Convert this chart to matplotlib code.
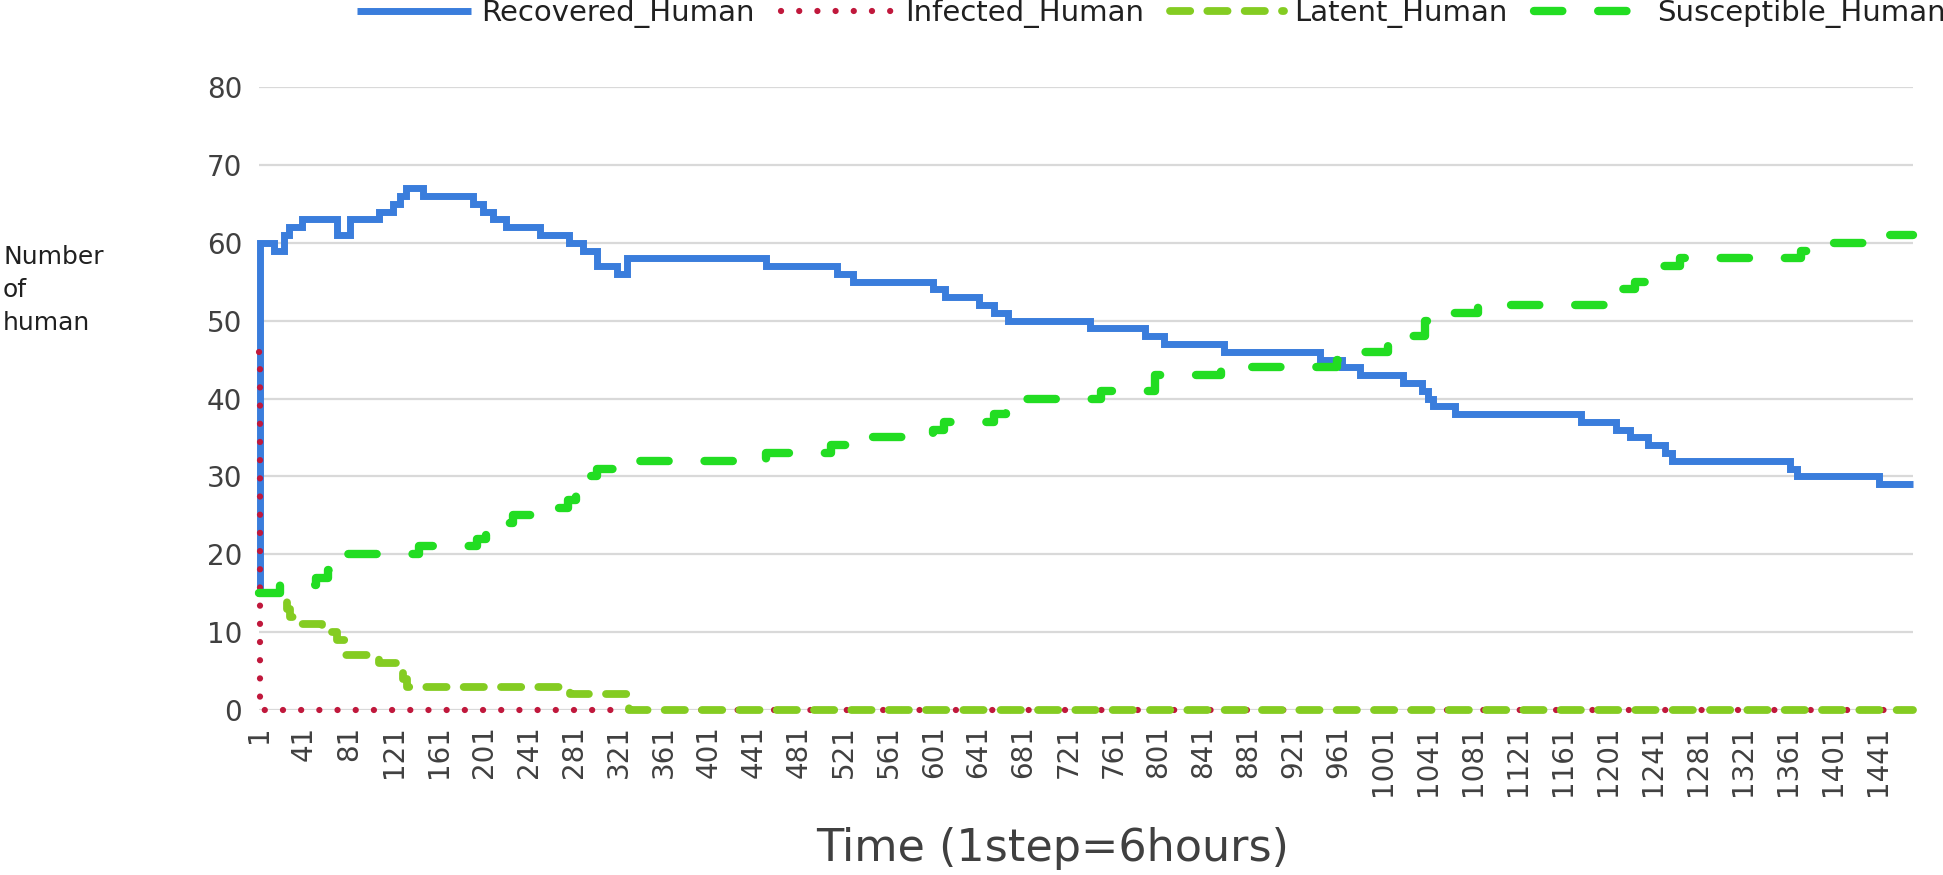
import matplotlib
matplotlib.use("Agg")
import matplotlib.pyplot as plt

# ---- data (change points of step series) ----
x_end = 1472
tick_labels = [str(v) for v in range(1, 1442, 40)]

rec_steps = [1, 2, 14, 23, 28, 39, 70, 82, 108, 120, 126, 132, 147, 191, 200, 209, 221, 251, 277, 289,
             302, 319, 328, 452, 515, 529, 600, 611, 641, 655, 667, 740, 789, 806, 859, 945, 964, 980,
             1018, 1035, 1041, 1045, 1065, 1177, 1208, 1220, 1236, 1251, 1258, 1363, 1369, 1442]
rec_vals = [15, 60, 59, 61, 62, 63, 61, 63, 64, 65, 66, 67, 66, 65, 64, 63, 62, 61, 60, 59,
            57, 56, 58, 57, 56, 55, 54, 53, 52, 51, 50, 49, 48, 47, 46, 45, 44, 43,
            42, 41, 40, 39, 38, 37, 36, 35, 34, 33, 32, 31, 30, 29]

inf_steps = [1, 2]
inf_vals = [46, 0]

lat_steps = [1, 22, 26, 29, 38, 57, 70, 78, 108, 125, 129, 133, 278, 330]
lat_vals = [15, 14, 13, 12, 11, 10, 9, 7, 6, 5, 4, 3, 2, 0]

sus_steps = [1, 20, 52, 62, 72, 80, 143, 195, 203, 215, 227, 248, 276, 283, 290, 296, 302, 318, 452, 510,
             530, 600, 610, 655, 665, 672, 750, 798, 857, 960, 975, 1005, 1020, 1038, 1045, 1085, 1200,
             1212, 1225, 1238, 1250, 1265, 1372, 1378, 1442]
sus_vals = [15, 16, 17, 18, 19, 20, 21, 22, 23, 24, 25, 26, 27, 28, 29, 30, 31, 32, 33, 34,
            35, 36, 37, 38, 39, 40, 41, 43, 44, 45, 46, 47, 48, 50, 51, 52, 53,
            54, 55, 56, 57, 58, 59, 60, 61]

series = [
    ("Recovered_Human", rec_steps, rec_vals),
    ("Infected_Human", inf_steps, inf_vals),
    ("Latent_Human", lat_steps, lat_vals),
    ("Susceptible_Human", sus_steps, sus_vals),
]

styles = {
    "Recovered_Human": dict(color="#3A7DDC", lw=5.0, ls="-", solid_capstyle="butt"),
    "Infected_Human": dict(color="#C0183C", lw=4.5, ls=(0, (0.01, 2.9)), dash_capstyle="round"),
    "Latent_Human": dict(color="#84CC22", lw=5.6, ls=(0, (2.6, 2.2)), dash_capstyle="round"),
    "Susceptible_Human": dict(color="#22DD22", lw=6.0, ls=(0, (3.4, 4.3)), dash_capstyle="round"),
}

W, H = 1943, 875
fig = plt.figure(figsize=(W / 100, H / 100), dpi=100)
ax = fig.add_axes([259 / W, 1 - 710 / H, (1913 - 259) / W, (710 - 87) / H])

handles = []
for name, xs, ys in series:
    xx = list(xs) + [x_end]
    yy = list(ys) + [ys[-1]]
    ln, = ax.plot(xx, yy, drawstyle="steps-post", label=name, clip_on=False,
                  solid_joinstyle="miter", **styles[name])
    handles.append(ln)

ax.set_xlim(1, x_end)
ax.set_ylim(0, 80)
for s in ax.spines.values():
    s.set_visible(False)
ax.set_yticks(range(0, 81, 10))
ax.yaxis.grid(True, color="#D9D9D9", lw=1.6)
ax.set_axisbelow(True)
ax.set_xticks(range(1, 1442, 40))
ax.set_xticklabels(tick_labels, rotation=90)
ax.tick_params(axis="y", length=0, pad=12, labelsize=20, labelcolor="#404040")
ax.tick_params(axis="x", length=0, pad=11, labelsize=20, labelcolor="#404040")

fig.text(3 / W, 1 - 290 / H, "Number\nof\nhuman", ha="left", va="center",
         fontsize=18, linespacing=1.5, color="#202020")
fig.text(1053 / W, 1 - 849 / H, "Time (1step=6hours)", ha="center", va="center",
         fontsize=32, color="#404040")

fig.legend(handles=handles, loc="center left", bbox_to_anchor=(357 / W, 1 - 14 / H),
           ncol=4, frameon=False, fontsize=21, handlelength=3.9, handletextpad=0.35,
           columnspacing=0.9, borderpad=0, borderaxespad=0, labelcolor="#202020")

fig.savefig("out.png", dpi=100)
